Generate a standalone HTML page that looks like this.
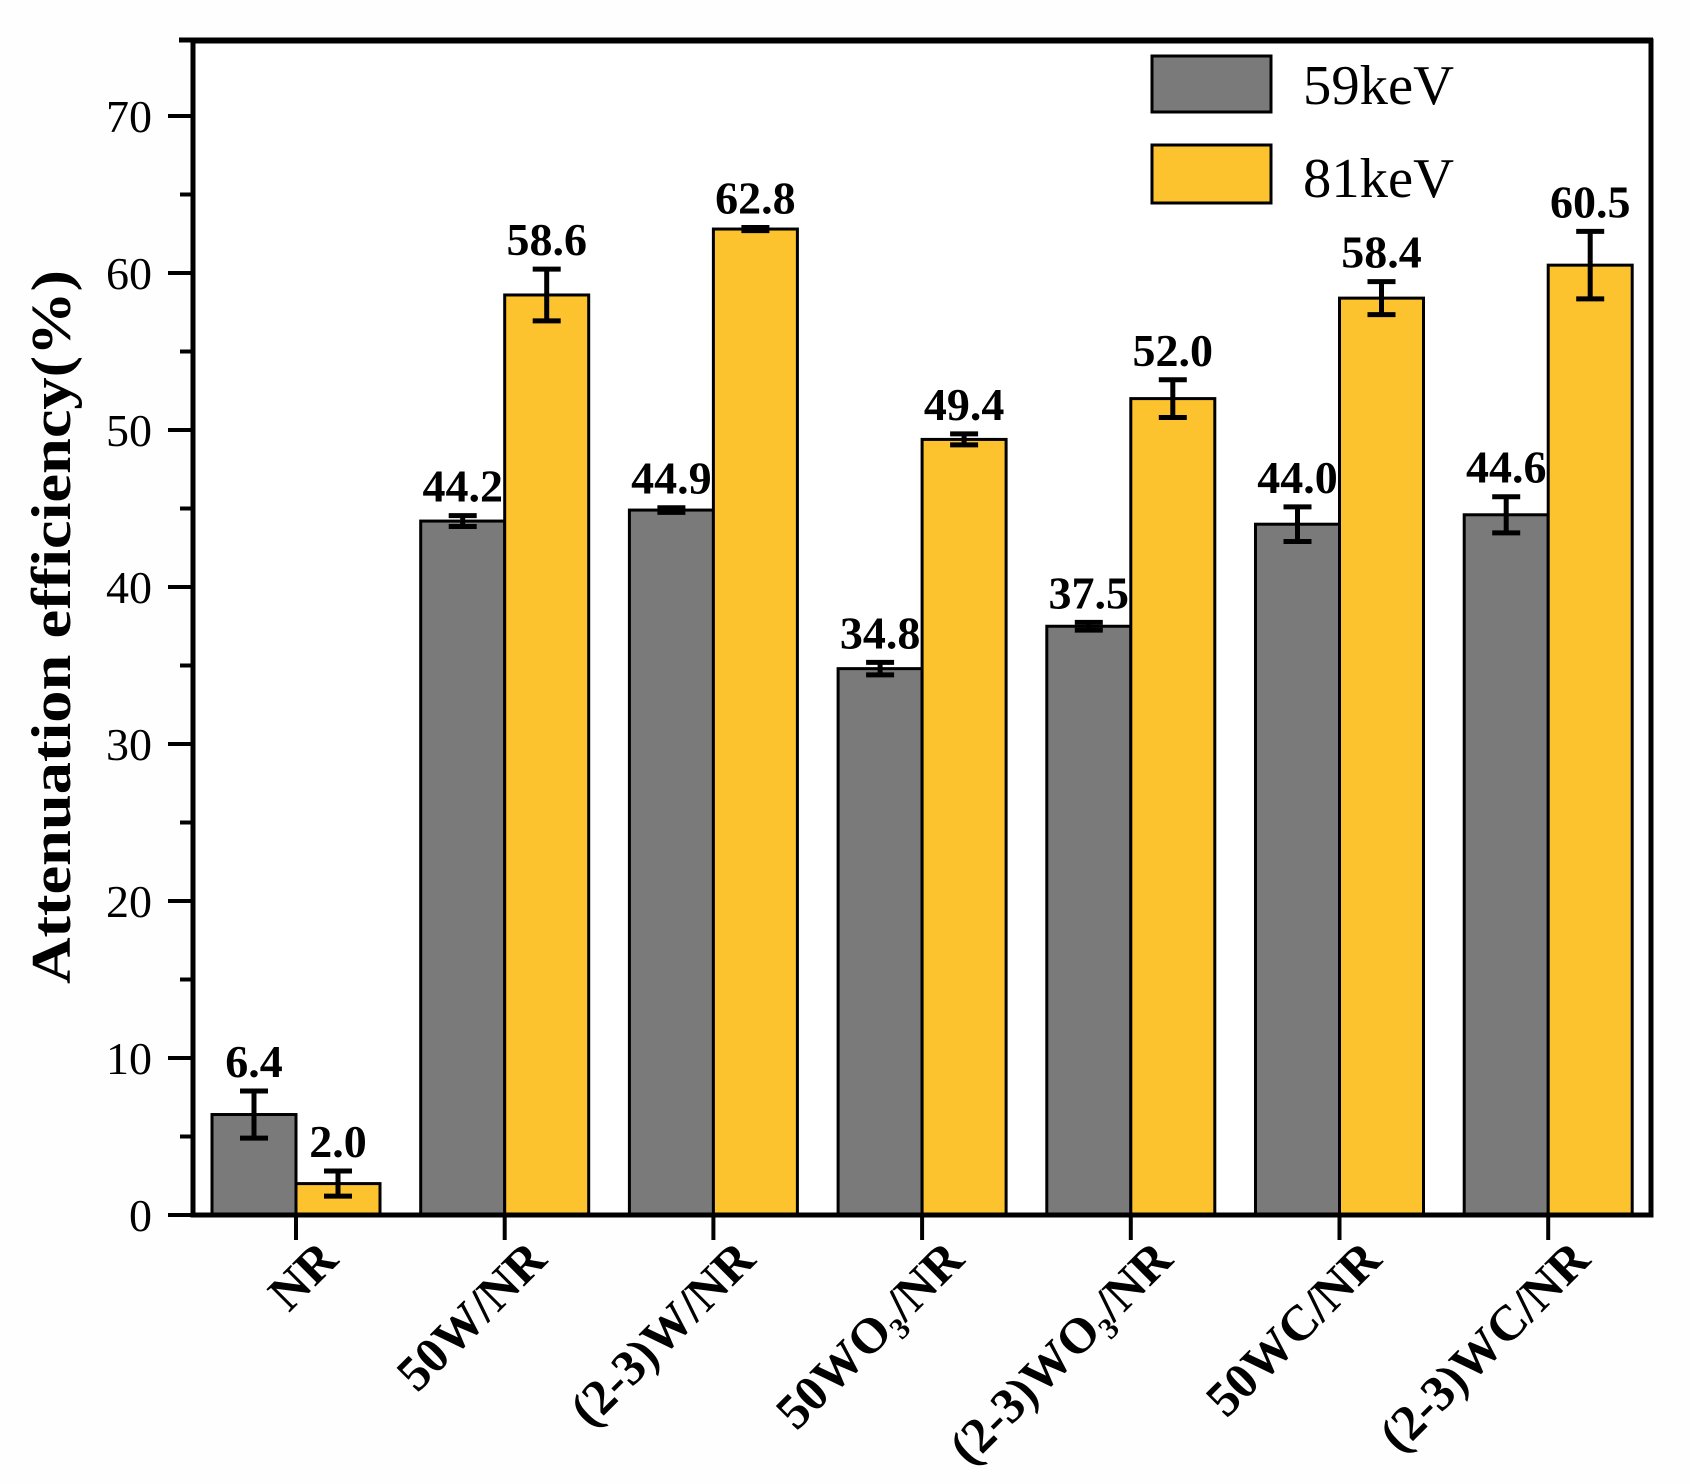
<!DOCTYPE html>
<html><head><meta charset="utf-8"><style>
html,body{margin:0;padding:0;background:#fff;}
svg{display:block;font-family:"Liberation Serif",serif;}
</style></head><body>
<svg width="1691" height="1484" viewBox="0 0 1691 1484" xmlns="http://www.w3.org/2000/svg">
<rect width="1691" height="1484" fill="#fdfefd"/>
<rect x="193" y="41" width="1458" height="1174" fill="#fff"/>
<g id="bars"></g>
<rect x="193" y="41" width="1458" height="1174" fill="none" stroke="#000" stroke-width="5"/>
<line x1="179" y1="40" x2="1653" y2="40" stroke="#000" stroke-width="5"/>
<rect x="1152" y="56" width="119" height="56" fill="#7a7a7a" stroke="#000" stroke-width="3"/>
<rect x="1152" y="145" width="119" height="58" fill="#fdc32e" stroke="#000" stroke-width="3"/>
<text x="1303" y="104" font-size="56" textLength="151" lengthAdjust="spacingAndGlyphs">59keV</text>
<text x="1303" y="197" font-size="56" textLength="151" lengthAdjust="spacingAndGlyphs">81keV</text>
<text transform="translate(70,627) rotate(-90)" text-anchor="middle" font-size="56" font-weight="bold" textLength="714" lengthAdjust="spacingAndGlyphs">Attenuation efficiency(%)</text>
<g id="axes"></g>
</svg>
<script>
const ns="http://www.w3.org/2000/svg";
function el(tag,attrs,txt,parent){const e=document.createElementNS(ns,tag);for(const k in attrs)e.setAttribute(k,attrs[k]);if(txt!==undefined)e.textContent=txt;(parent||document.getElementById('bars')).appendChild(e);return e;}
const Y=v=>1215-15.7*v;
const data=[[6.4,1.5,2.0,0.8],[44.2,0.35,58.6,1.65],[44.9,0.15,62.8,0.1],[34.8,0.4,49.4,0.35],[37.5,0.25,52.0,1.2],[44.0,1.1,58.4,1.05],[44.6,1.15,60.5,2.15]];
const W=84;
data.forEach((d,i)=>{
  const c=296+208.7*i;
  [[d[0],d[1],c-W,'#7a7a7a'],[d[2],d[3],c,'#fdc32e']].forEach(([v,e,x,col])=>{
    el('rect',{x:x,y:Y(v),width:W,height:1215-Y(v),fill:col,stroke:'#000','stroke-width':3});
    const cx=x+W/2;
    el('line',{x1:cx,y1:Y(v+e),x2:cx,y2:Y(v-e),stroke:'#000','stroke-width':5});
    el('line',{x1:cx-14,y1:Y(v+e),x2:cx+14,y2:Y(v+e),stroke:'#000','stroke-width':5});
    el('line',{x1:cx-14,y1:Y(v-e),x2:cx+14,y2:Y(v-e),stroke:'#000','stroke-width':5});
    el('text',{x:cx,y:Y(v+e)-14,'text-anchor':'middle','font-size':46,'font-weight':'bold'},v.toFixed(1));
  });
});
const ax=document.getElementById('axes');
for(let v=0;v<=70;v+=5){
  const y=Y(v),maj=v%10===0;
  el('line',{x1:maj?168:180,y1:y,x2:193,y2:y,stroke:'#000','stroke-width':4},undefined,ax);
  if(maj)el('text',{x:152,y:y+16,'text-anchor':'end','font-size':46},String(v),ax);
}
const labs=['NR','50W/NR','(2-3)W/NR','50WO|/NR','(2-3)WO|/NR','50WC/NR','(2-3)WC/NR'];
labs.forEach((l,i)=>{
  const c=296+208.7*i;
  el('line',{x1:c,y1:1215,x2:c,y2:1240,stroke:'#000','stroke-width':4},undefined,ax);
  const t=el('text',{transform:`translate(${c+44},1262) rotate(-45)`,'text-anchor':'end','font-size':50,'font-weight':'bold'},undefined,ax);
  if(l.includes('|')){
    const [a,b]=l.split('|');
    const s1=document.createElementNS(ns,'tspan');s1.textContent=a;t.appendChild(s1);
    const s2=document.createElementNS(ns,'tspan');s2.textContent='3';s2.setAttribute('font-size','30');s2.setAttribute('dy','10');t.appendChild(s2);
    const s3=document.createElementNS(ns,'tspan');s3.textContent=b;s3.setAttribute('dy','-10');t.appendChild(s3);
  } else t.textContent=l;
});
</script>
</body></html>
